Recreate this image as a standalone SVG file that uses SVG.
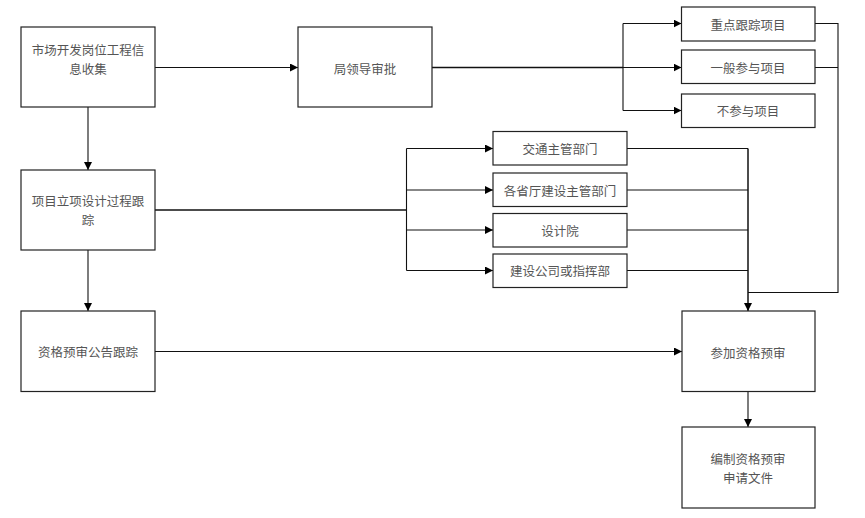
<svg xmlns="http://www.w3.org/2000/svg" width="865" height="518" viewBox="0 0 865 518">
<style>
.box{fill:#fff;stroke:#222;stroke-width:1.2}
.t{font-family:"Noto Sans CJK SC","Liberation Serif",serif;font-size:12.5px;fill:#555;text-anchor:middle;dominant-baseline:central}
.c{fill:none;stroke:#111;stroke-width:1.1}
.a{marker-end:url(#arr)}
</style>
<defs>
<marker id="arr" viewBox="0 0 10 10" refX="10" refY="5" markerWidth="8" markerHeight="8" markerUnits="userSpaceOnUse" orient="auto">
<path d="M0,0 L10,5 L0,10 z" fill="#000"/>
</marker>
</defs>
<rect width="865" height="518" fill="#fff"/>
<g id="connectors">
<path class="c a" d="M155,67.5 H298"/>
<path class="c" style="stroke-width:1.6" d="M432,67.5 H623"/>
<path class="c a" d="M623,23.5 V110.5 M623,23.5 H681.5"/>
<path class="c a" d="M623,67.5 H681.5"/>
<path class="c a" d="M623,110.5 H681.5"/>
<path class="c" d="M815,23.5 H838 V292.5 H748 M815,67.5 H838"/>
<path class="c a" d="M88,107 V170"/>
<path class="c a" d="M88,250 V311"/>
<path class="c" style="stroke-width:1.6" d="M155,210 H406.5"/>
<path class="c" d="M406.5,148.5 V270.5"/>
<path class="c a" d="M406.5,148.5 H493"/>
<path class="c a" d="M406.5,190 H493"/>
<path class="c a" d="M406.5,230 H493"/>
<path class="c a" d="M406.5,270.5 H493"/>
<path class="c" d="M627,148.5 H748 M627,190 H748 M627,230 H748 M627,270.5 H748"/>
<path class="c a" style="stroke-width:1.5" d="M748,148.5 V311"/>
<path class="c a" d="M155,351.5 H682"/>
<path class="c a" d="M748,392 V427"/>
</g>
<g id="n1"><rect class="box" x="21" y="27" width="134" height="80"/><text class="t" x="88" y="49.5">市场开发岗位工程信</text><text class="t" x="88" y="68.5">息收集</text></g>
<g id="n2"><rect class="box" x="298" y="27" width="134" height="80"/><text class="t" x="365" y="68">局领导审批</text></g>
<g id="n3"><rect class="box" x="681.5" y="7" width="133.5" height="34"/><text class="t" x="748" y="24">重点跟踪项目</text></g>
<g id="n4"><rect class="box" x="681.5" y="50" width="133.5" height="33.5"/><text class="t" x="748" y="67">一般参与项目</text></g>
<g id="n5"><rect class="box" x="681.5" y="94" width="133.5" height="33.5"/><text class="t" x="748" y="110.5">不参与项目</text></g>
<g id="n6"><rect class="box" x="21" y="170" width="134" height="80"/><text class="t" x="88" y="200">项目立项设计过程跟</text><text class="t" x="88" y="219">踪</text></g>
<g id="n7"><rect class="box" x="493" y="131.5" width="134" height="33.5"/><text class="t" x="560" y="148">交通主管部门</text></g>
<g id="n8"><rect class="box" x="493" y="173" width="134" height="33.5"/><text class="t" x="560" y="190">各省厅建设主管部门</text></g>
<g id="n9"><rect class="box" x="493" y="213.5" width="134" height="33.5"/><text class="t" x="560" y="230">设计院</text></g>
<g id="n10"><rect class="box" x="493" y="254" width="134" height="33.5"/><text class="t" x="560" y="270.5">建设公司或指挥部</text></g>
<g id="n11"><rect class="box" x="21" y="311" width="134" height="80.5"/><text class="t" x="88" y="351.5">资格预审公告跟踪</text></g>
<g id="n12"><rect class="box" x="682" y="311" width="133" height="80.5"/><text class="t" x="748" y="352">参加资格预审</text></g>
<g id="n13"><rect class="box" x="682" y="427" width="133" height="81"/><text class="t" x="748" y="458">编制资格预审</text><text class="t" x="748" y="477">申请文件</text></g>
</svg>
